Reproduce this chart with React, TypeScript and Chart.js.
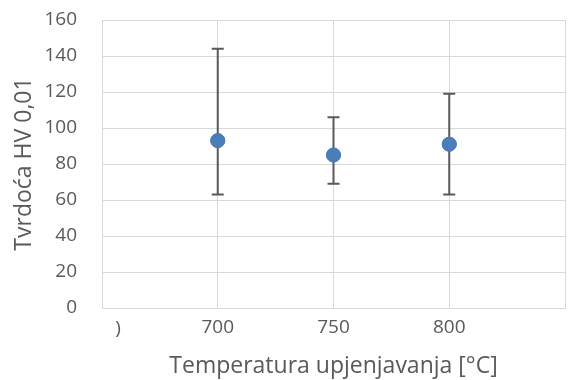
import React, { useEffect, useRef } from "react";
import { Chart, registerables } from "chart.js";

Chart.register(...registerables);

const temperatures = [700, 750, 800];
const hardness = [93, 85, 91];
const errLow = [63, 69, 63];
const errHigh = [144, 106, 119];
const yTicks = [0, 20, 40, 60, 80, 100, 120, 140, 160];
const xTickLabels: Record<number, string> = { 700: "700", 750: "750", 800: "800" };
const clippedLabel = ")";

const FONT = "'Open Sans', sans-serif";
const TEXT = "#595959";
const GRID = "#d9d9d9";

const errorBarPlugin = {
  id: "errorBars",
  afterDatasetsDraw(chart: any) {
    const { ctx, scales } = chart;
    const x = scales.x;
    const y = scales.y;
    ctx.save();
    ctx.strokeStyle = "#595959";
    ctx.lineWidth = 2;
    temperatures.forEach((t, i) => {
      const px = x.getPixelForValue(t);
      const pLo = y.getPixelForValue(errLow[i]);
      const pHi = y.getPixelForValue(errHigh[i]);
      ctx.beginPath();
      ctx.moveTo(px, pLo);
      ctx.lineTo(px, pHi);
      ctx.moveTo(px - 6, pLo);
      ctx.lineTo(px + 6, pLo);
      ctx.moveTo(px - 6, pHi);
      ctx.lineTo(px + 6, pHi);
      ctx.stroke();
    });
    ctx.restore();
    const meta = chart.getDatasetMeta(0);
    meta.data.forEach((el: any) => el.draw(ctx, chart.chartArea));
  },
  afterDraw(chart: any) {
    const { ctx, scales } = chart;
    const x = scales.x;
    ctx.save();
    ctx.fillStyle = TEXT;
    ctx.font = `19px ${FONT}`;
    ctx.textAlign = "center";
    ctx.textBaseline = "middle";
    ctx.fillText(clippedLabel, x.getPixelForValue(650) + 16, 329);
    ctx.restore();
  },
};

export default function App() {
  const ref = useRef<HTMLCanvasElement>(null);
  useEffect(() => {
    if (!ref.current) return;
    const chart = new Chart(ref.current, {
      type: "scatter",
      data: {
        datasets: [
          {
            data: temperatures.map((t, i) => ({ x: t, y: hardness[i] })),
            backgroundColor: "#4a7ebb",
            borderColor: "#4a7ebb",
            pointRadius: 7,
            pointHoverRadius: 7,
          },
        ],
      },
      options: {
        animation: false,
        responsive: false,
        layout: { padding: { top: 20, right: 8, left: 0, bottom: 0 } },
        plugins: { legend: { display: false }, tooltip: { enabled: false } },
        scales: {
          x: {
            type: "linear",
            min: 650,
            max: 850,
            afterFit: (s: any) => {
              s.height = 72;
            },
            afterBuildTicks: (s: any) => {
              s.ticks = [650, 700, 750, 800, 850].map((v) => ({ value: v }));
            },
            ticks: {
              padding: 8,
              color: TEXT,
              font: { family: FONT, size: 19 },
              callback: (v: any) => xTickLabels[v] ?? "",
            },
            grid: { color: GRID, lineWidth: 1, drawTicks: false },
            border: { color: GRID },
            title: {
              display: true,
              text: "Temperatura upjenjavanja [°C]",
              color: TEXT,
              font: { family: FONT, size: 23 },
              padding: { top: 0, bottom: 0 },
            },
          },
          y: {
            min: 0,
            max: 160,
            afterFit: (s: any) => {
              s.width = 102;
            },
            afterBuildTicks: (s: any) => {
              s.ticks = yTicks.map((v) => ({ value: v }));
            },
            ticks: {
              padding: 0,
              color: TEXT,
              font: { family: FONT, size: 19 },
            },
            grid: {
              color: GRID,
              lineWidth: 1,
              drawTicks: true,
              tickLength: 25,
              tickColor: "rgba(0,0,0,0)",
            },
            border: { color: GRID },
            title: {
              display: true,
              text: "Tvrdoća HV 0,01",
              color: TEXT,
              font: { family: FONT, size: 23 },
              padding: { top: 11, bottom: 0 },
            },
          },
        },
      },
      plugins: [errorBarPlugin],
    });
    return () => chart.destroy();
  }, []);
  return (
    <div style={{ position: "fixed", left: 0, top: 0, width: 573, height: 380, background: "#fff" }}>
      <canvas ref={ref} width={573} height={380} />
    </div>
  );
}
